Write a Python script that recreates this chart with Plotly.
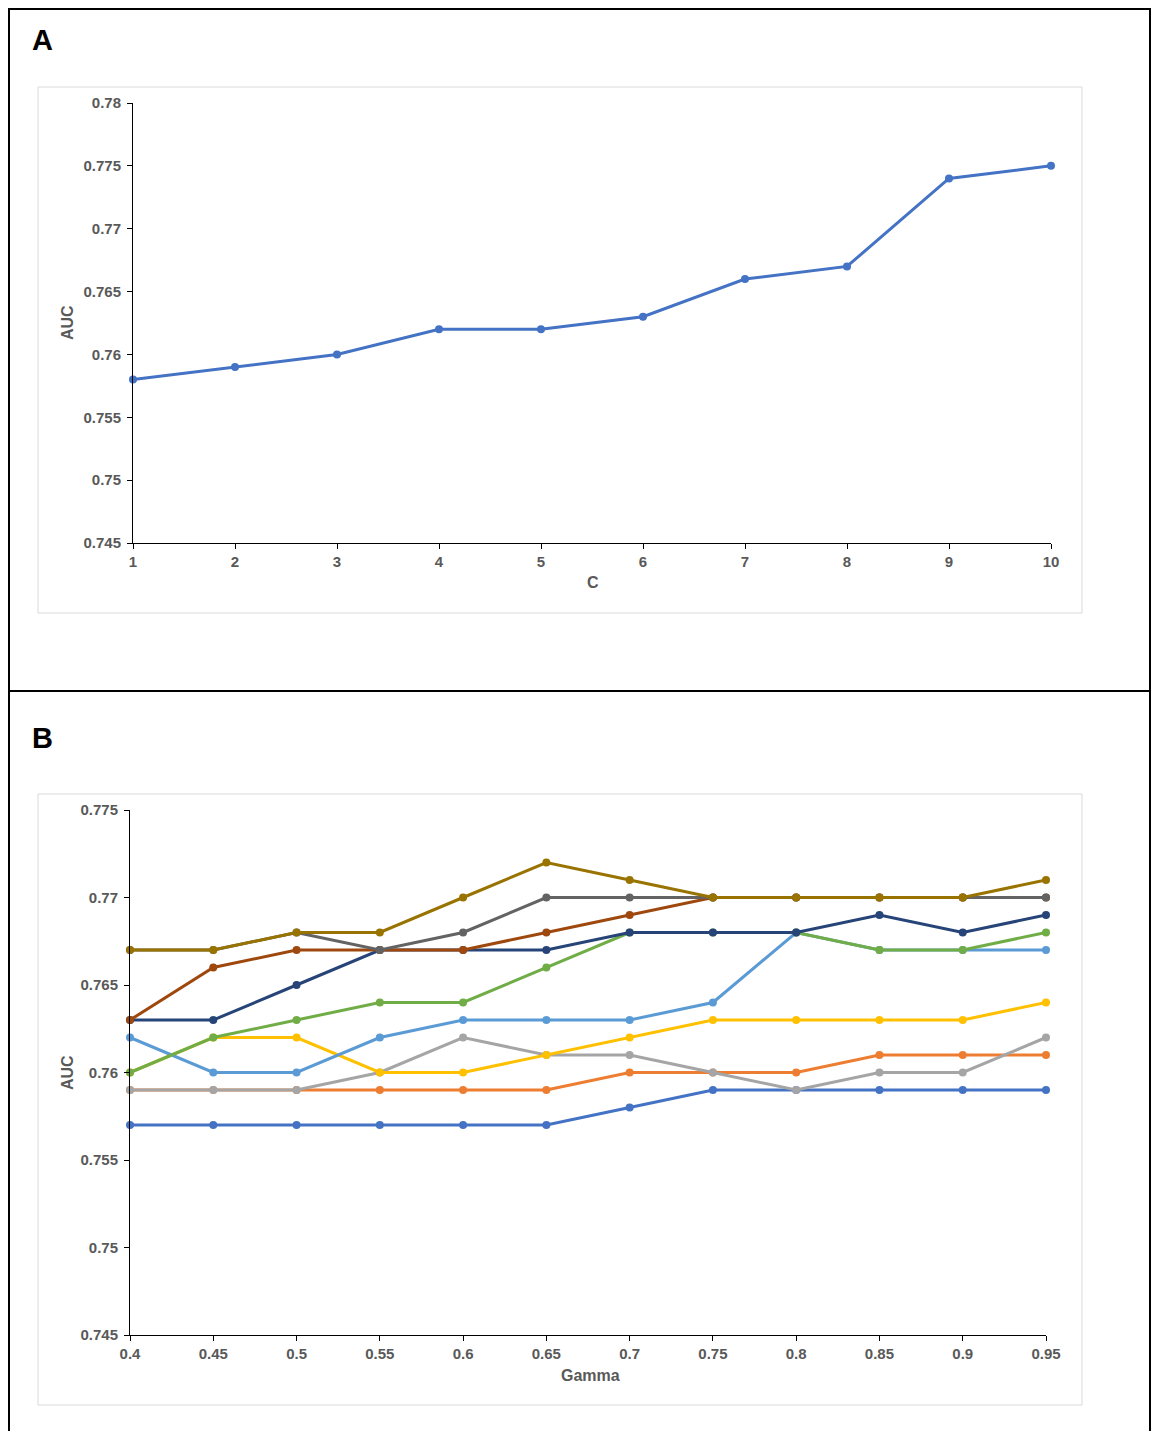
import plotly.graph_objects as go

# page body has an 8px margin; figure is sized to fit the window without scrollbars
OFF = 8
W, H = 1144, 1423

# Panel A data
c_vals = [1, 2, 3, 4, 5, 6, 7, 8, 9, 10]
auc_a = [0.758, 0.759, 0.760, 0.762, 0.762, 0.763, 0.766, 0.767, 0.774, 0.775]
a_yticks = [0.745, 0.75, 0.755, 0.76, 0.765, 0.77, 0.775, 0.78]
a_yticktext = ["0.745", "0.75", "0.755", "0.76", "0.765", "0.77", "0.775", "0.78"]

# Panel B data
gamma = [0.4, 0.45, 0.5, 0.55, 0.6, 0.65, 0.7, 0.75, 0.8, 0.85, 0.9, 0.95]
gamma_text = ["0.4", "0.45", "0.5", "0.55", "0.6", "0.65", "0.7", "0.75", "0.8", "0.85", "0.9", "0.95"]
s1 = [0.757, 0.757, 0.757, 0.757, 0.757, 0.757, 0.758, 0.759, 0.759, 0.759, 0.759, 0.759]
s2 = [0.759, 0.759, 0.759, 0.759, 0.759, 0.759, 0.760, 0.760, 0.760, 0.761, 0.761, 0.761]
s3 = [0.759, 0.759, 0.759, 0.760, 0.762, 0.761, 0.761, 0.760, 0.759, 0.760, 0.760, 0.762]
s4 = [0.760, 0.762, 0.762, 0.760, 0.760, 0.761, 0.762, 0.763, 0.763, 0.763, 0.763, 0.764]
s5 = [0.762, 0.760, 0.760, 0.762, 0.763, 0.763, 0.763, 0.764, 0.768, 0.767, 0.767, 0.767]
s6 = [0.760, 0.762, 0.763, 0.764, 0.764, 0.766, 0.768, 0.768, 0.768, 0.767, 0.767, 0.768]
s7 = [0.763, 0.763, 0.765, 0.767, 0.767, 0.767, 0.768, 0.768, 0.768, 0.769, 0.768, 0.769]
s8 = [0.763, 0.766, 0.767, 0.767, 0.767, 0.768, 0.769, 0.770, 0.770, 0.770, 0.770, 0.770]
s9 = [0.767, 0.767, 0.768, 0.767, 0.768, 0.770, 0.770, 0.770, 0.770, 0.770, 0.770, 0.770]
s10 = [0.767, 0.767, 0.768, 0.768, 0.770, 0.772, 0.771, 0.770, 0.770, 0.770, 0.770, 0.771]
b_series = [s1, s2, s3, s4, s5, s6, s7, s8, s9, s10]
b_colors = ["#4472C4", "#ED7D31", "#A5A5A5", "#FFC000", "#5B9BD5",
            "#70AD47", "#264478", "#9E480E", "#636363", "#997300"]
b_yticks = [0.745, 0.75, 0.755, 0.76, 0.765, 0.77, 0.775]
b_yticktext = ["0.745", "0.75", "0.755", "0.76", "0.765", "0.77", "0.775"]


def px(x):
    return (x - OFF) / W


def py(y):
    return 1 - (y - OFF) / H


fig = go.Figure()
fig.add_trace(go.Scatter(x=c_vals, y=auc_a, mode="lines+markers",
                         line=dict(color="#4472C4", width=3),
                         marker=dict(size=8, color="#4472C4"),
                         xaxis="x", yaxis="y", showlegend=False, cliponaxis=False))
for s, col in zip(b_series, b_colors):
    fig.add_trace(go.Scatter(x=gamma, y=s, mode="lines+markers",
                             line=dict(color=col, width=3),
                             marker=dict(size=8, color=col),
                             xaxis="x2", yaxis="y2", showlegend=False, cliponaxis=False))

tickfont = dict(family="Liberation Sans, Arial", size=15, color="#595959", weight="bold")
axcommon = dict(showgrid=False, zeroline=False, showline=True, linecolor="#000000",
                linewidth=1, ticks="outside", ticklen=5, tickcolor="#000000",
                tickfont=tickfont, automargin=False)

fig.update_layout(
    template="none",
    width=W, height=H,
    margin=dict(l=0, r=0, t=0, b=0, pad=0, autoexpand=False),
    paper_bgcolor="white", plot_bgcolor="white",
    xaxis=dict(domain=[px(133), px(1051)], range=[1, 10], tickvals=c_vals,
               anchor="y", **axcommon),
    yaxis=dict(domain=[py(543), py(103)], range=[0.745, 0.78], tickvals=a_yticks,
               ticktext=a_yticktext, anchor="x", ticklabelstandoff=3, **axcommon),
    xaxis2=dict(domain=[px(130), px(1046)], range=[0.4, 0.95], tickvals=gamma,
                ticktext=gamma_text, anchor="y2", **axcommon),
    yaxis2=dict(domain=[py(1335), py(810)], range=[0.745, 0.775], tickvals=b_yticks,
                ticktext=b_yticktext, anchor="x2", ticklabelstandoff=3, **axcommon),
)

shapes = [
    dict(type="rect", xref="paper", yref="paper", x0=px(9), x1=px(1150), y0=py(691), y1=py(9),
         line=dict(color="black", width=2)),
    dict(type="rect", xref="paper", yref="paper", x0=px(9), x1=px(1150), y0=py(1460), y1=py(691),
         line=dict(color="black", width=2)),
    dict(type="rect", xref="paper", yref="paper", x0=px(38), x1=px(1082), y0=py(613), y1=py(87),
         line=dict(color="#D9D9D9", width=1)),
    dict(type="rect", xref="paper", yref="paper", x0=px(38), x1=px(1082), y0=py(1405), y1=py(794),
         line=dict(color="#D9D9D9", width=1)),
]
fig.update_layout(shapes=shapes)

titlefont = dict(family="Liberation Sans, Arial", size=16, color="#595959", weight="bold")
letterfont = dict(family="Liberation Sans, Arial", size=29, color="black", weight="bold")
ann = [
    dict(text="A", x=px(42), y=py(40), font=letterfont),
    dict(text="B", x=px(42), y=py(738), font=letterfont),
    dict(text="AUC", x=px(67), y=py(323), textangle=-90, font=titlefont),
    dict(text="C", x=px(593), y=py(582), font=titlefont),
    dict(text="AUC", x=px(67), y=py(1073), textangle=-90, font=titlefont),
    dict(text="Gamma", x=px(590), y=py(1375), font=titlefont),
]
for a in ann:
    a.update(xref="paper", yref="paper", showarrow=False, xanchor="center", yanchor="middle")
fig.update_layout(annotations=ann)

fig.write_html("out.html")
